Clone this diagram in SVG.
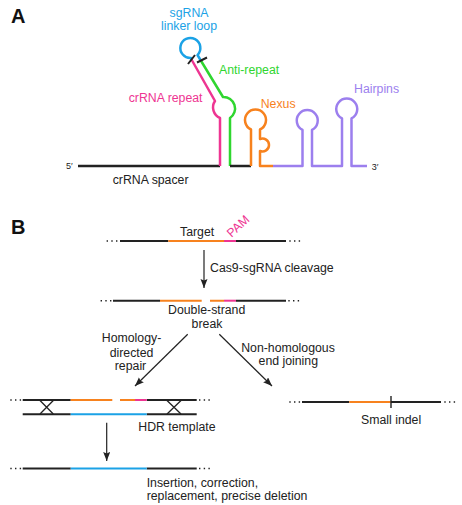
<svg xmlns="http://www.w3.org/2000/svg" width="462" height="505" viewBox="0 0 462 505">
<style>
text{font-family:"Liberation Sans",Arial,Helvetica,sans-serif;font-size:12.3px;fill:#222}
.lbl{font-size:20px;font-weight:bold;fill:#111}
.prime{font-size:9px}
.rna{fill:none;stroke-width:2.5;stroke-linejoin:round}
.dna{fill:none;stroke-width:2}
.k{stroke:#222}
.pk{stroke:#ee3592}
.gr{stroke:#2fd62f}
.or{stroke:#f7821e}
.pu{stroke:#9c7fee}
.bl{stroke:#1ba2e6}
.dots{stroke:#222;stroke-width:1.4;stroke-dasharray:1.4 3.3}
.arr{stroke:#222;stroke-width:1.2;fill:none;marker-end:url(#ah)}
</style>
<defs>
<marker id="ah" markerUnits="userSpaceOnUse" markerWidth="10" markerHeight="8" refX="9" refY="3.5" orient="auto">
<path d="M0,0 L9,3.5 L0,7 L1.5,3.5 z" fill="#222"/>
</marker>
</defs>
<rect width="462" height="505" fill="#fff"/>

<!-- Panel A -->
<g id="panelA">
<text class="lbl" x="11" y="22.5">A</text>
<g id="spacer">
<path class="rna k" d="M78 166 L220 166"/>
<text x="112.7" y="184">crRNA spacer</text>
<text class="prime" x="66" y="168.5">5′</text>
</g>
<g id="linker-loop">
<path class="rna bl" d="M191.5 59.5 L191 58 A10 10 0 1 1 197.5 55 L200.5 60"/>
<text x="189" y="16.7" text-anchor="middle" style="fill:#1ba2e6">sgRNA</text>
<text x="189" y="29.5" text-anchor="middle" style="fill:#1ba2e6">linker loop</text>
</g>
<g id="crRNA-repeat">
<path class="rna pk" d="M191.5 59.5 L215 101 A11.5 11.5 0 0 0 220 118 L220 166"/>
<text x="202.5" y="101.5" text-anchor="end" style="fill:#ee3592">crRNA repeat</text>
</g>
<g id="anti-repeat">
<path class="rna gr" d="M200.5 60 L223 97 A11.5 11.5 0 0 1 230 118 L230 166"/>
<text x="219" y="74" style="fill:#2fd62f">Anti-repeat</text>
</g>
<g id="ticks">
<path class="dna k" d="M188 64 L195 55 M197 62.5 L207 57.5"/>
</g>
<g id="nexus">
<path class="rna k" d="M230 166 L251 166"/>
<path class="rna or" d="M251 166 L251 129.5 A10.5 10.5 0 1 1 260 129.5 L260 139 A6.5 6.5 0 1 1 260 151 L260 166 L273 166"/>
<text x="260.7" y="108.3" style="fill:#f7821e">Nexus</text>
</g>
<g id="hairpins">
<path class="rna pu" d="M273 166 L302.5 166 L302.5 129.9 A10.5 10.5 0 1 1 312 129.9 L312 166 L342 166 L342 118.4 A10.5 10.5 0 1 1 351.5 118.4 L351.5 166 L367 166"/>
<text x="354" y="93.3" style="fill:#9c7fee">Hairpins</text>
<text class="prime" x="371.7" y="169.5">3′</text>
</g>
</g>

<!-- Panel B -->
<g id="panelB">
<text class="lbl" x="11" y="234">B</text>
<g id="target">
<line class="dots" x1="106.6" y1="241" x2="118" y2="241"/>
<path class="dna k" d="M120 241 L168.3 241 M236 241 L286 241"/>
<path class="dna or" d="M168.3 241 L224 241"/>
<path class="dna pk" d="M224 241 L236 241"/>
<line class="dots" x1="289.3" y1="241" x2="300.5" y2="241"/>
<text x="180" y="235.5">Target</text>
<text x="0" y="0" transform="translate(231.5 238) rotate(-43)" style="fill:#ee3592">PAM</text>
</g>
<g id="double-strand-break">
<line class="dots" x1="100.6" y1="300.7" x2="112" y2="300.7"/>
<path class="dna k" d="M113 300.7 L160 300.7 M236 300.7 L286 300.7"/>
<path class="dna or" d="M160 300.7 L201.7 300.7 M210 300.7 L224 300.7"/>
<path class="dna pk" d="M224 300.7 L236 300.7"/>
<line class="dots" x1="288.3" y1="300.7" x2="299.5" y2="300.7"/>
<text x="206.7" y="314.3" text-anchor="middle">Double-strand</text>
<text x="207" y="328.3" text-anchor="middle">break</text>
</g>
<g id="hdr">
<line class="dots" x1="10.3" y1="400" x2="21.5" y2="400"/>
<path class="dna k" d="M22.7 400 L70.7 400 M146.7 400 L196.7 400 M22.7 414.3 L70.7 414.3 M146.7 414.3 L196.7 414.3"/>
<path class="dna or" d="M70.7 400 L112.3 400 M120 400 L135 400"/>
<path class="dna pk" d="M135 400 L146.7 400"/>
<path class="dna bl" d="M70.7 414.3 L146.7 414.3"/>
<path fill="none" stroke="#222" stroke-width="1.3" d="M40 400.5 L53.3 414 M53.3 400.5 L40 414 M167 400.5 L181 414 M181 400.5 L167 414"/>
<line class="dots" x1="199" y1="400" x2="210.2" y2="400"/>
<text x="138.3" y="431">HDR template</text>
</g>
<g id="nhej">
<line class="dots" x1="289.3" y1="402" x2="300.5" y2="402"/>
<path class="dna k" d="M302 402 L349.3 402 M390.7 402 L441 402"/>
<path class="dna or" d="M349.3 402 L390.7 402"/>
<path fill="none" stroke="#222" stroke-width="1.4" d="M391 396 L391 408"/>
<line class="dots" x1="444.3" y1="402" x2="455.5" y2="402"/>
<text x="361" y="424">Small indel</text>
</g>
<g id="result">
<line class="dots" x1="10.3" y1="468.5" x2="21.5" y2="468.5"/>
<path class="dna k" d="M22.7 468.5 L70.7 468.5 M146.7 468.5 L196.7 468.5"/>
<path class="dna bl" d="M70.7 468.5 L146.7 468.5"/>
<line class="dots" x1="199" y1="468.5" x2="210.2" y2="468.5"/>
<text x="146.7" y="486.5">Insertion, correction,</text>
<text x="146.7" y="500">replacement, precise deletion</text>
</g>
</g>

<g id="connectors">
<line class="arr" x1="204" y1="250" x2="204" y2="288"/>
<text x="210" y="271.5">Cas9-sgRNA cleavage</text>
<line class="arr" x1="187.7" y1="334.3" x2="135" y2="386"/>
<text x="131.5" y="342.3" text-anchor="middle">Homology-</text>
<text x="131.5" y="356.5" text-anchor="middle">directed</text>
<text x="130.5" y="370" text-anchor="middle">repair</text>
<line class="arr" x1="219.3" y1="334.3" x2="272" y2="386"/>
<text x="288" y="351.5" text-anchor="middle">Non-homologous</text>
<text x="288.3" y="364.5" text-anchor="middle">end joining</text>
<line class="arr" x1="106.7" y1="422.7" x2="106.7" y2="461"/>
</g>
</svg>
